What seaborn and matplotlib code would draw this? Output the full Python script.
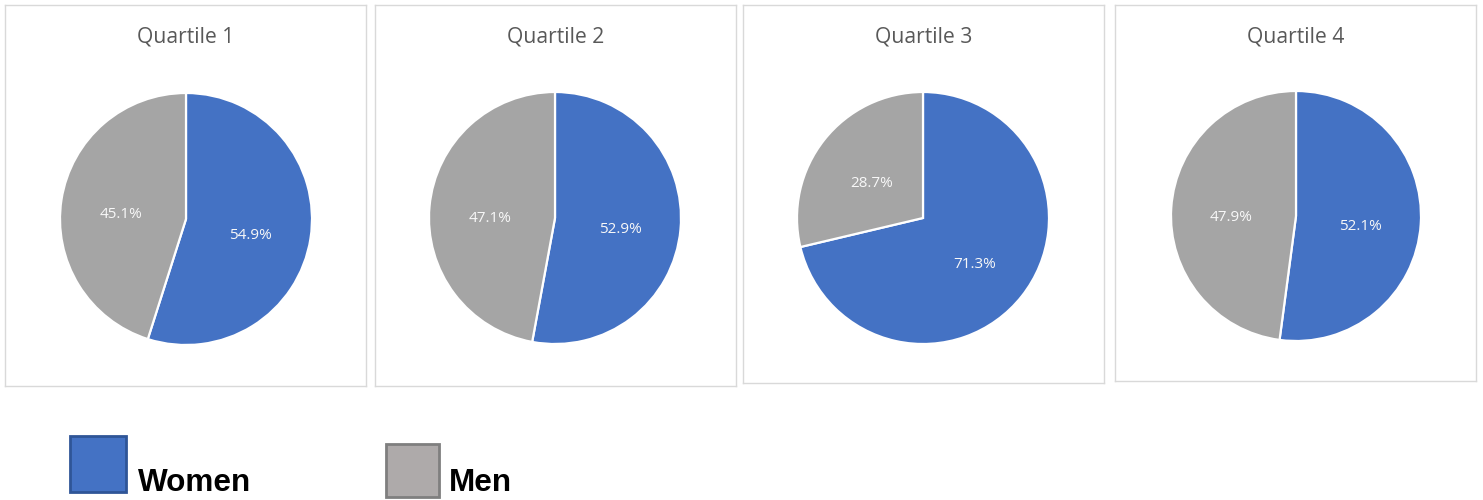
import matplotlib
matplotlib.use("Agg")
import matplotlib.pyplot as plt
import seaborn as sns
from matplotlib.patches import Rectangle

sns.set_theme(style="white")
plt.rcParams['font.family'] = ['Open Sans', 'DejaVu Sans']

quartiles = ["Quartile 1", "Quartile 2", "Quartile 3", "Quartile 4"]
groups = ["Women", "Men"]
women = [54.9, 52.9, 71.3, 52.1]
men = [45.1, 47.1, 28.7, 47.9]

pie_colors = ["#4472C4", "#A5A5A5"]
legend_face = ["#4472C4", "#AEAAAA"]
legend_edge = ["#2F5597", "#7F7F7F"]

W, H = 1483, 500
fig = plt.figure(figsize=(W / 100, H / 100), dpi=100)
fig.patch.set_facecolor("white")

# panel layout in pixels: (left, right, top, bottom), pie centre and radius
panels = [(5, 366, 5, 386), (375, 736, 5, 386), (743, 1104, 5, 383), (1115, 1476, 5, 381)]
centers = [(186, 219), (555, 218), (923, 218), (1296, 216)]
radii = [126, 126, 126, 125]

for i, q in enumerate(quartiles):
    L, R, T, B = panels[i]
    cx, cy = centers[i]
    r = radii[i]
    ax = fig.add_axes([L / W, 1 - B / H, (R - L) / W, (B - T) / H])
    wedges, texts, autotexts = ax.pie(
        [women[i], men[i]], colors=pie_colors, startangle=90, counterclock=False,
        autopct='%1.1f%%', pctdistance=0.52,
        wedgeprops=dict(edgecolor="white", linewidth=1.6),
        textprops=dict(color="#F8F8F8", fontsize=11))
    s = 1.0 / r
    ax.set_aspect('auto')
    ax.set_xlim((L - cx) * s, (R - cx) * s)
    ax.set_ylim((cy - B) * s, (cy - T) * s)
    # Excel-style label placement: slightly lower than the wedge midpoint
    for t in autotexts:
        x, y = t.get_position()
        t.set_position((x, y - 6 * s))
    ax.set_frame_on(True)
    for sp in ax.spines.values():
        sp.set_visible(True)
        sp.set_color("#D9D9D9")
        sp.set_linewidth(1.0)
    ax.set_xticks([])
    ax.set_yticks([])
    ax.text(0.5, (B - 37) / (B - T), q, transform=ax.transAxes, ha="center", va="center",
            fontsize=15.2, color="#595959")

# legend drawn at figure level
leg_boxes = [(70, 436, 56), (386, 444, 53)]
leg_text_x = [138, 449]
for g, (x, y, sz), tx, fc, ec in zip(groups, leg_boxes, leg_text_x, legend_face, legend_edge):
    fig.patches.append(Rectangle((x / W, 1 - (y + sz) / H), sz / W, sz / H,
                                 transform=fig.transFigure, facecolor=fc, edgecolor=ec,
                                 linewidth=2, figure=fig))
    fig.text(tx / W, 1 - 491 / H, g, ha="left", va="baseline", fontsize=22.7,
             fontweight="bold", color="black", family=["Liberation Sans", "DejaVu Sans"])

fig.savefig("out.png", dpi=100, facecolor="white")
